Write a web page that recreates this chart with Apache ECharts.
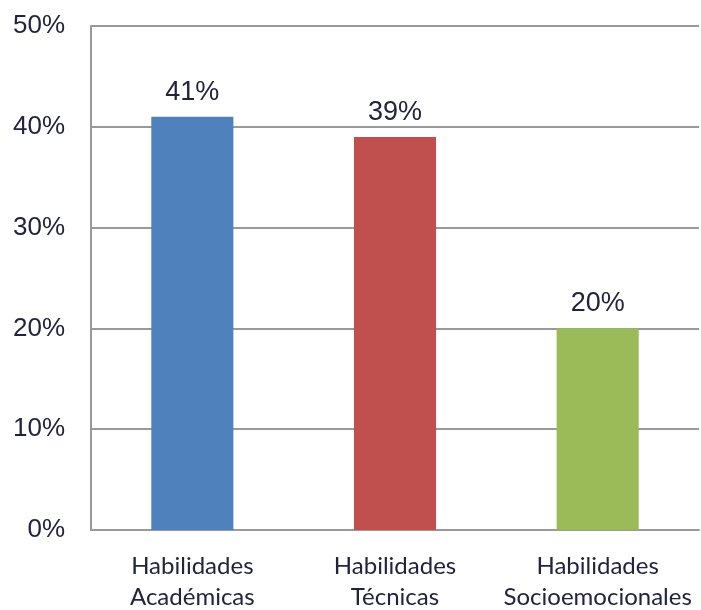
<!DOCTYPE html>
<html>
<head>
<meta charset="utf-8">
<script src="https://cdn.jsdelivr.net/npm/echarts@6/dist/echarts.min.js"></script>
<style>
  html, body { margin: 0; padding: 0; background: #fff; }
  #chart { width: 701px; height: 610px; }
</style>
</head>
<body>
<div id="chart"></div>
<script>
// categorias y valores (%)
const categories = ['Habilidades\nAcadémicas', 'Habilidades\nTécnicas', 'Habilidades\nSocioemocionales'];
const values = [41, 39, 20];
const barColors = ['#4F81BD', '#C0504D', '#9BBB59'];
const yTicks = [0, 10, 20, 30, 40, 50];

const chart = echarts.init(document.getElementById('chart'));

chart.setOption({
  animation: false,
  backgroundColor: '#fff',
  grid: { left: 91, right: 2, top: 26, bottom: 80, outerBoundsMode: 'none' },
  xAxis: {
    type: 'category',
    data: categories,
    axisLine: { lineStyle: { color: '#999', width: 2 } },
    axisTick: { show: false },
    axisLabel: {
      color: '#22243f',
      fontFamily: 'Lato',
      fontSize: 24,
      lineHeight: 31,
      margin: 21,
      interval: 0
    }
  },
  yAxis: {
    type: 'value',
    min: yTicks[0],
    max: yTicks[yTicks.length - 1],
    interval: 10,
    axisLine: { show: true, lineStyle: { color: '#999', width: 2 } },
    axisTick: { show: false },
    splitLine: { lineStyle: { color: '#999', width: 2 } },
    axisLabel: {
      formatter: '{value}%',
      color: '#22243f',
      fontFamily: 'Liberation Sans',
      fontSize: 26,
      margin: 26
    }
  },
  series: [{
    type: 'bar',
    barWidth: '40.5%',
    data: values.map((v, i) => ({ value: v, itemStyle: { color: barColors[i] } })),
    label: {
      show: true,
      position: 'top',
      distance: 11,
      formatter: '{c}%',
      color: '#22243f',
      fontFamily: 'Liberation Sans',
      fontSize: 27
    }
  }]
});
</script>
</body>
</html>
